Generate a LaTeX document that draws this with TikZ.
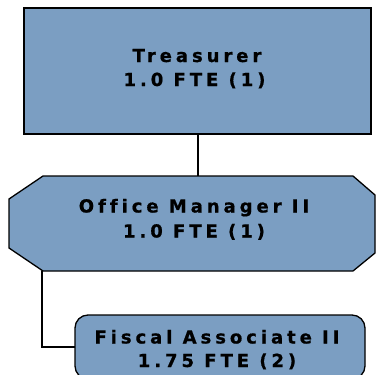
\documentclass[tikz,border=0pt]{standalone}
\usepackage{fontspec}
\setmainfont{DejaVu Sans}[LetterSpace=22,Ligatures={NoCommon,NoRequired},BoldFeatures={FakeBold=0.8}]
\definecolor{boxblue}{RGB}{123,158,194}
\tikzset{
  box/.style={draw=black, fill=boxblue, line width=1.3pt},
  ghost/.style={draw=none, fill=none, inner sep=0pt, outer sep=0pt},
  lbl/.style={anchor=base, inner sep=0pt, font=\fontsize{18}{21}\selectfont\bfseries},
  link/.style={draw=black, line width=1.5pt}
}
\begin{document}
\begin{tikzpicture}[x=1pt,y=-1pt]
\useasboundingbox (0,0) rectangle (376,375);
\clip (0,0) rectangle (376,375);
% Treasurer
\node[box, rectangle, minimum width=347pt, minimum height=126pt, inner sep=0pt, outer sep=0pt] (tr) at (197.5,71) {};
% Office manager (octagon drawn from ghost node anchors)
\node[ghost, rectangle, minimum width=366pt, minimum height=95pt] (om) at (192,223.5) {};
\path[box] ([xshift=34pt]om.north west) -- ([xshift=-22pt]om.north east)
  -- ([yshift=-19pt]om.north east) -- ([yshift=18pt]om.south east)
  -- ([xshift=-22pt]om.south east) -- ([xshift=34pt]om.south west)
  -- ([yshift=23pt]om.south west) -- ([yshift=-23pt]om.north west) -- cycle;
% Fiscal associate
\node[box, rectangle, rounded corners=13pt, minimum width=290pt, minimum height=64pt, inner sep=0pt, outer sep=0pt] (fa) at (220,347) {};
% connectors
\draw[link] ([xshift=0.5pt]tr.south) -- ([xshift=0.5pt]tr.south |- om.north);
\draw[link] ([xshift=33pt]om.south west) |- (fa.west);
% labels
\node[lbl] (tr1) at (197,62) {Treasurer};
\node[lbl] (tr2) at (194.5,86) {1.0 FTE (1)};
\node[lbl] (om1) at (194,212.5) {Office Manager II};
\node[lbl] (om2) at (194,237.5) {1.0 FTE (1)};
\node[lbl] (fa1) at (217,343.5) {Fiscal Associate II};
\node[lbl] (fa2) at (217,367) {1.75 FTE (2)};
\end{tikzpicture}
\end{document}
